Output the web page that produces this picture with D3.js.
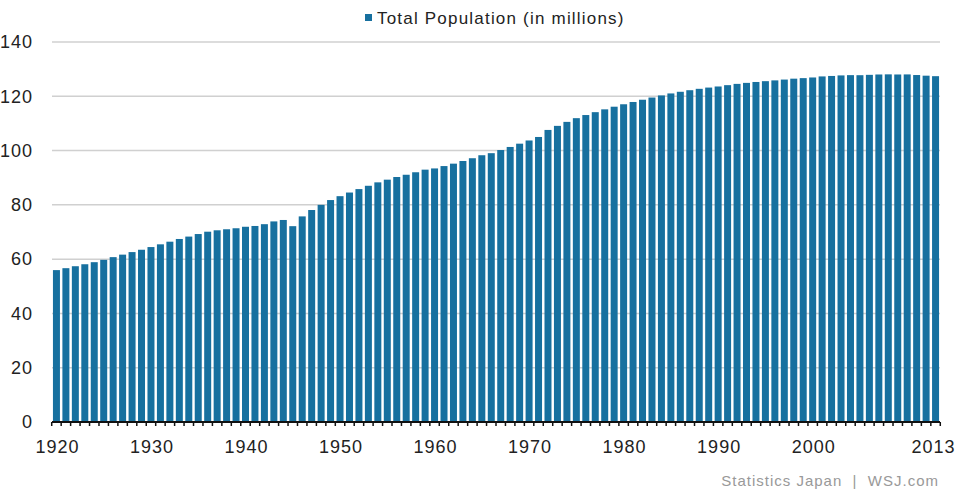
<!DOCTYPE html>
<html>
<head>
<meta charset="utf-8">
<script src="https://cdn.jsdelivr.net/npm/d3@7"></script>
<style>
  body { margin: 0; background: #fff; }
  svg { font-family: "Liberation Sans", Arial, sans-serif; }
</style>
</head>
<body>
<svg id="chart" width="955" height="491"></svg>
<script>
// years 1920..2013
const years = d3.range(1920, 2014);
// total population, millions
const population = [
  55.96, 56.67, 57.39, 58.12, 58.88, 59.74, 60.74, 61.66, 62.60, 63.46,
  64.45, 65.46, 66.43, 67.43, 68.31, 69.25, 70.11, 70.63, 71.01, 71.38,
  71.93, 72.22, 72.88, 73.90, 74.43, 72.15, 75.75, 78.10, 80.00, 81.77,
  83.20, 84.54, 85.81, 87.03, 88.29, 89.28, 90.26, 91.09, 92.01, 92.97,
  93.42, 94.29, 95.18, 96.16, 97.18, 98.28, 99.04, 100.20, 101.33, 102.54,
  103.72, 105.01, 107.60, 109.10, 110.57, 111.94, 113.09, 114.15, 115.19, 116.16,
  117.06, 117.90, 118.73, 119.54, 120.31, 121.05, 121.66, 122.24, 122.75, 123.21,
  123.61, 124.10, 124.57, 124.94, 125.27, 125.57, 125.86, 126.16, 126.49, 126.69,
  126.93, 127.32, 127.49, 127.69, 127.79, 127.77, 127.90, 128.03, 128.08, 128.03,
  128.06, 127.83, 127.59, 127.41
];
const yTicks = [0, 20, 40, 60, 80, 100, 120, 140];
const xLabels = [1920, 1930, 1940, 1950, 1960, 1970, 1980, 1990, 2000, 2013];
const seriesName = 'Total Population (in millions)';
const source = 'Statistics Japan  |  WSJ.com';

const svg = d3.select('#chart');
const margin = { left: 52, right: 15, top: 42, bottom: 69 };
const width = 955, height = 491;
const innerW = width - margin.left - margin.right;
const innerH = height - margin.top - margin.bottom;

const barColor = '#17709f';

const x = d3.scaleBand().domain(years).range([0, innerW]).paddingInner(0.26).paddingOuter(0.1);
const y = d3.scaleLinear().domain([0, 140]).range([innerH, 0]);

const g = svg.append('g').attr('transform', `translate(${margin.left},${margin.top})`);

// gridlines
g.append('g').selectAll('line')
  .data(yTicks.filter(d => d > 0))
  .join('line')
  .attr('x1', 0).attr('x2', innerW)
  .attr('y1', d => y(d)).attr('y2', d => y(d))
  .attr('stroke', '#d0d0d0').attr('stroke-width', 1.5);

// y labels
g.append('g').selectAll('text')
  .data(yTicks)
  .join('text')
  .attr('x', -19).attr('y', d => y(d))
  .attr('dy', '0.35em')
  .attr('text-anchor', 'end')
  .attr('font-size', 18)
  .attr('letter-spacing', 1)
  .attr('fill', '#222')
  .text(d => d);

// bars
g.append('g').selectAll('rect')
  .data(years)
  .join('rect')
  .attr('x', d => x(d))
  .attr('width', x.bandwidth())
  .attr('y', (d, i) => y(population[i]))
  .attr('height', (d, i) => innerH - y(population[i]))
  .attr('fill', barColor);

// baseline with small ticks between bars
const step = x.step();
const tickX = d3.range(years.length + 1).map(i => x(years[0]) - (step - x.bandwidth()) / 2 + i * step);
g.append('line')
  .attr('x1', 0).attr('x2', innerW)
  .attr('y1', innerH).attr('y2', innerH)
  .attr('stroke', '#111').attr('stroke-width', 2);
g.append('g').selectAll('line')
  .data(tickX)
  .join('line')
  .attr('x1', d => d).attr('x2', d => d)
  .attr('y1', innerH).attr('y2', innerH + 4)
  .attr('stroke', '#111').attr('stroke-width', 1.5);

// x labels
g.append('g').selectAll('text')
  .data(xLabels)
  .join('text')
  .attr('x', d => x(d) + x.bandwidth() / 2 + (d === 2013 ? -2 : 1))
  .attr('y', innerH + 31)
  .attr('text-anchor', 'middle')
  .attr('font-size', 18)
  .attr('letter-spacing', 1)
  .attr('fill', '#222')
  .text(d => d);

// legend
const legend = svg.append('g').attr('transform', 'translate(365,18)');
legend.append('rect')
  .attr('x', 0).attr('y', -4).attr('width', 7).attr('height', 7)
  .attr('fill', barColor);
legend.append('text')
  .attr('x', 12).attr('y', 0).attr('dy', '0.35em')
  .attr('font-size', 17).attr('letter-spacing', 1.2)
  .attr('fill', '#222')
  .text(seriesName);

// source
svg.append('text')
  .attr('x', 939).attr('y', 486)
  .attr('text-anchor', 'end')
  .attr('font-size', 15)
  .attr('letter-spacing', 1)
  .attr('fill', '#999')
  .attr('xml:space', 'preserve')
  .style('white-space', 'pre')
  .text(source);
</script>
</body>
</html>
